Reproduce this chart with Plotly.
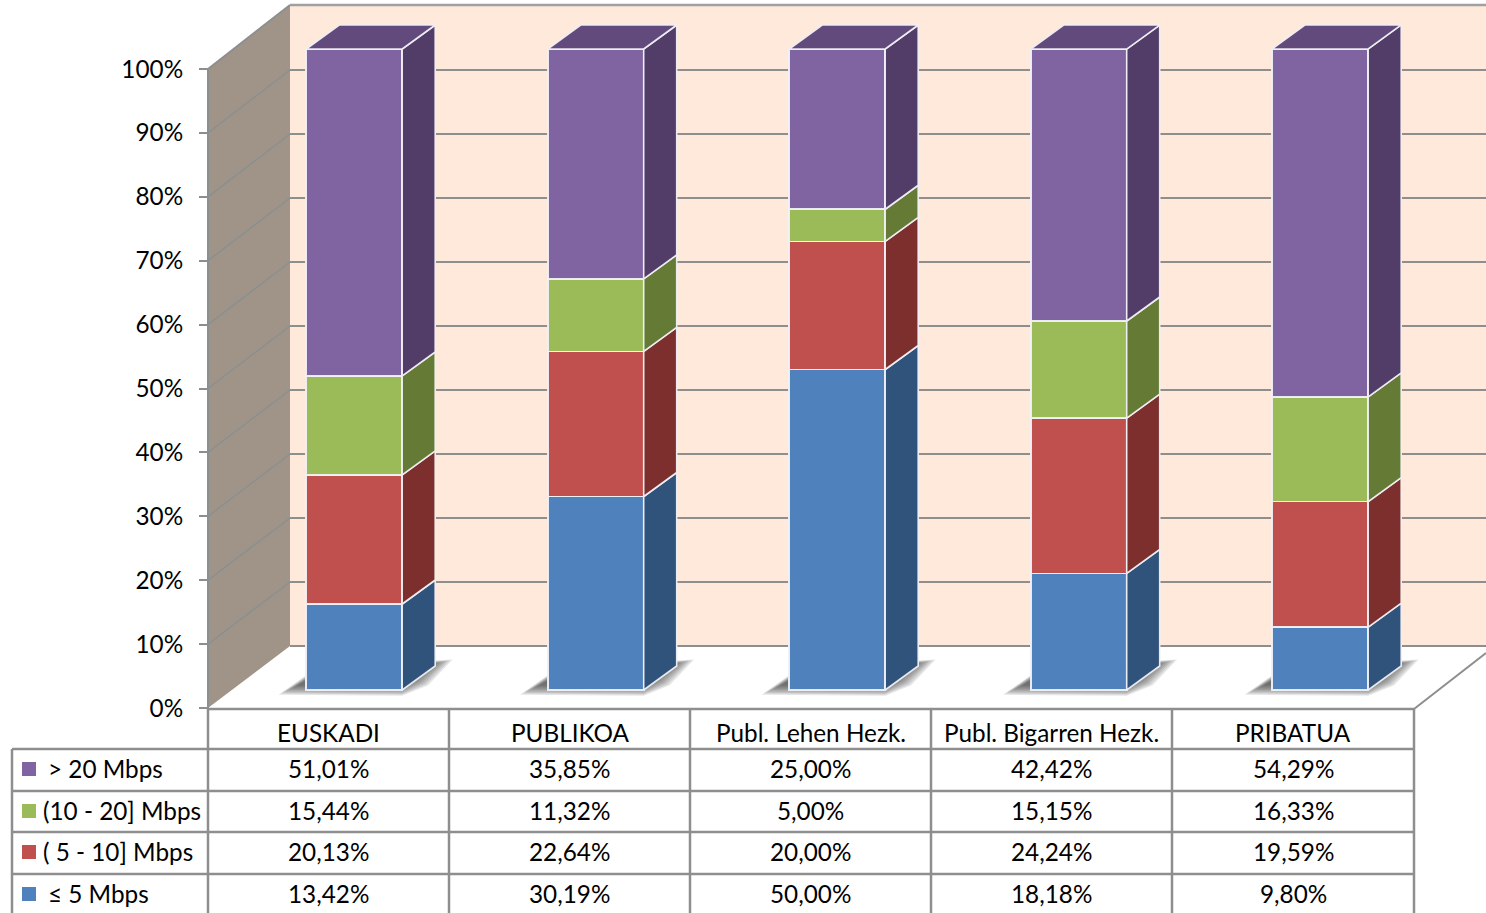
import plotly.graph_objects as go

categories = ["EUSKADI", "PUBLIKOA", "Publ. Lehen Hezk.", "Publ. Bigarren Hezk.", "PRIBATUA"]
le_5 = [13.42, 30.19, 50.00, 18.18, 9.80]
from_5_10 = [20.13, 22.64, 20.00, 24.24, 19.59]
from_10_20 = [15.44, 11.32, 5.00, 15.15, 16.33]
over_20 = [51.01, 35.85, 25.00, 42.42, 54.29]
percent_ticks = [0, 10, 20, 30, 40, 50, 60, 70, 80, 90, 100]

W, H = 1486, 913
FONT = "Lato"
FS = 24.3
# stack order bottom -> top: name, values, front, side colours
stack = [
    ("≤ 5 Mbps", le_5, "#4F81BD", "#30537B"),
    ("( 5 - 10] Mbps", from_5_10, "#C0504D", "#7C2F2D"),
    ("(10 - 20] Mbps", from_10_20, "#9BBB59", "#647A35"),
    ("> 20 Mbps", over_20, "#8064A2", "#523D68"),
]
TOP_COLOR = "#624A7C"
EDGE = "rgba(240,240,245,0.95)"
GRID = "#8E8E8E"

# axis calibration (pixels)
X0, DX = 354.2, 241.5      # centre of first bar, bar spacing
Y0, DY = 690.0, 6.41       # base of the bars, pixels per percent
BAR_W = 96 / DX
DEPTH_X, DEPTH_Y = 33 / DX, 24 / DY

px = lambda x: x / W
py = lambda y: 1 - y / H
shapes, annotations, traces = [], [], []


def poly(points, fill, line=None, width=0, layer="below"):
    path = "M" + "L".join(f"{px(x):.5f},{py(y):.5f}" for x, y in points) + "Z"
    shapes.append(dict(type="path", path=path, xref="paper", yref="paper", fillcolor=fill,
                       line=dict(color=line or "rgba(0,0,0,0)", width=width), layer=layer))


def seg(x1, y1, x2, y2, color=GRID, width=2.0, layer="below"):
    shapes.append(dict(type="line", x0=px(x1), y0=py(y1), x1=px(x2), y1=py(y2), xref="paper",
                       yref="paper", line=dict(color=color, width=width), layer=layer))


# walls and floor
poly([(290, 5), (W, 5), (W, 646), (290, 646)], "#FEE9DA")
poly([(208, 69), (290, 5), (290, 646), (208, 708)], "#A09488")
seg(208, 69, 290, 5, "#8C8F8F", 2)
seg(208, 69, 208, 708, "#8C8F8F", 2)
seg(290, 5, W, 5, "#A0A0A0", 2.5)
for t in percent_ticks[:-1]:
    y_back = 646 - 6.4 * t
    seg(290, y_back, W, y_back, GRID, 2.2)
    if t > 0:
        seg(208, 708 - 6.39 * t, 290, y_back, "#8A9090", 1.5)
seg(1414, 709, W, 653, GRID, 2)

# soft floor shadows behind the bars
for i in range(len(categories)):
    cx = X0 + DX * i
    L, R = cx - 48, cx + 48
    for grow in range(-8, 9, 2):
        poly([(L - 18 - grow * 1.2, 690 + grow * 0.6), (L + 12, 670 - grow * 0.4), (R + 40 + grow * 1.3, 662 - grow * 0.3),
              (R + 18 + grow, 682 + grow * 0.4), (R, 691 + grow * 0.6)], "rgba(50,50,50,0.12)")

# front faces, through the bar trace
for name, values, front, side in stack:
    traces.append(go.Bar(x=list(range(len(categories))), y=values, name=name, width=BAR_W,
                         marker=dict(color=front, line=dict(color=EDGE, width=1.6)),
                         showlegend=False, hoverinfo="skip", xaxis="x", yaxis="y"))

# side and top faces computed from the same values
base = [0.0] * len(categories)
for name, values, front, side in stack:
    for i, v in enumerate(values):
        r = i + BAR_W / 2
        b, t = base[i], base[i] + v
        traces.append(go.Scatter(x=[r, r + DEPTH_X, r + DEPTH_X, r, r],
                                 y=[b, b + DEPTH_Y, t + DEPTH_Y, t, b],
                                 mode="lines", fill="toself", fillcolor=side,
                                 line=dict(color=EDGE, width=1.6), showlegend=False, hoverinfo="skip",
                                 xaxis="x", yaxis="y"))
        base[i] = t
for i, t in enumerate(base):
    l, r = i - BAR_W / 2, i + BAR_W / 2
    traces.append(go.Scatter(x=[l, r, r + DEPTH_X, l + DEPTH_X, l],
                             y=[t, t, t + DEPTH_Y, t + DEPTH_Y, t],
                             mode="lines", fill="toself", fillcolor=TOP_COLOR,
                             line=dict(color=EDGE, width=1.6), showlegend=False, hoverinfo="skip",
                             xaxis="x", yaxis="y"))

# invisible trace that keeps the percent axis alive
traces.append(go.Scatter(x=[0], y=[0], mode="markers", marker=dict(opacity=0), showlegend=False,
                         hoverinfo="skip", xaxis="x", yaxis="y2"))

# data table
col_x = [208, 449, 690, 931, 1172, 1414]
col_c = [328.5, 569.5, 810.5, 1051.5, 1293]
row_y = [749, 791, 832, 874]
row_c = [768, 810, 851, 893]
seg(208, 709, 1414, 709, GRID, 2.5, "above")
for y in row_y:
    seg(12, y, 1414, y, GRID, 2.5, "above")
for x in col_x:
    seg(x, 709, x, H, GRID, 2.5, "above")
seg(12, 749, 12, H, GRID, 2.5, "above")


def label(x, y, text, anchor="center"):
    annotations.append(dict(x=px(x), y=py(y), xref="paper", yref="paper", text=text, showarrow=False,
                            xanchor=anchor, yanchor="middle", font=dict(family=FONT, size=FS, color="#000000")))


for c, name in zip(col_c, categories):
    label(c, 732, name)
legend_x = {"> 20 Mbps": 46, "(10 - 20] Mbps": 40.5, "( 5 - 10] Mbps": 40.5, "≤ 5 Mbps": 46}
for (name, values, front, side), yc in zip(reversed(stack), row_c):
    poly([(22, yc - 6), (36, yc - 6), (36, yc + 8), (22, yc + 8)], front, layer="above")
    label(legend_x[name], yc, name, "left")
    for c, v in zip(col_c, values):
        label(c, yc, f"{v:.2f}%".replace(".", ","))

fig = go.Figure(traces)
fig.update_layout(
    width=W, height=H, margin=dict(l=0, r=0, t=0, b=0), autosize=False,
    paper_bgcolor="#FFFFFF", plot_bgcolor="rgba(0,0,0,0)", barmode="stack", showlegend=False,
    shapes=shapes, annotations=annotations, font=dict(family=FONT, size=FS, color="#000000"),
    xaxis=dict(domain=[0, 1], range=[-X0 / DX, (W - X0) / DX], visible=False, fixedrange=True),
    yaxis=dict(domain=[0, 1], range=[(Y0 - H) / DY, Y0 / DY], visible=False, fixedrange=True),
    yaxis2=dict(overlaying="y", anchor="free", position=208 / W, side="left",
                range=[(708 - H) / 6.39, 708 / 6.39], tickmode="array", tickvals=percent_ticks,
                ticktext=[f"{t}%" for t in percent_ticks],
                ticks="outside", ticklen=9, tickwidth=2, tickcolor=GRID, showgrid=False, zeroline=False,
                showline=False, ticklabelstandoff=11,
                tickfont=dict(family=FONT, size=FS, color="#000000"), fixedrange=True),
)
fig.write_html("out.html", config=dict(displayModeBar=False),
               post_script="document.body.style.margin='0';document.body.style.overflow='hidden';")
